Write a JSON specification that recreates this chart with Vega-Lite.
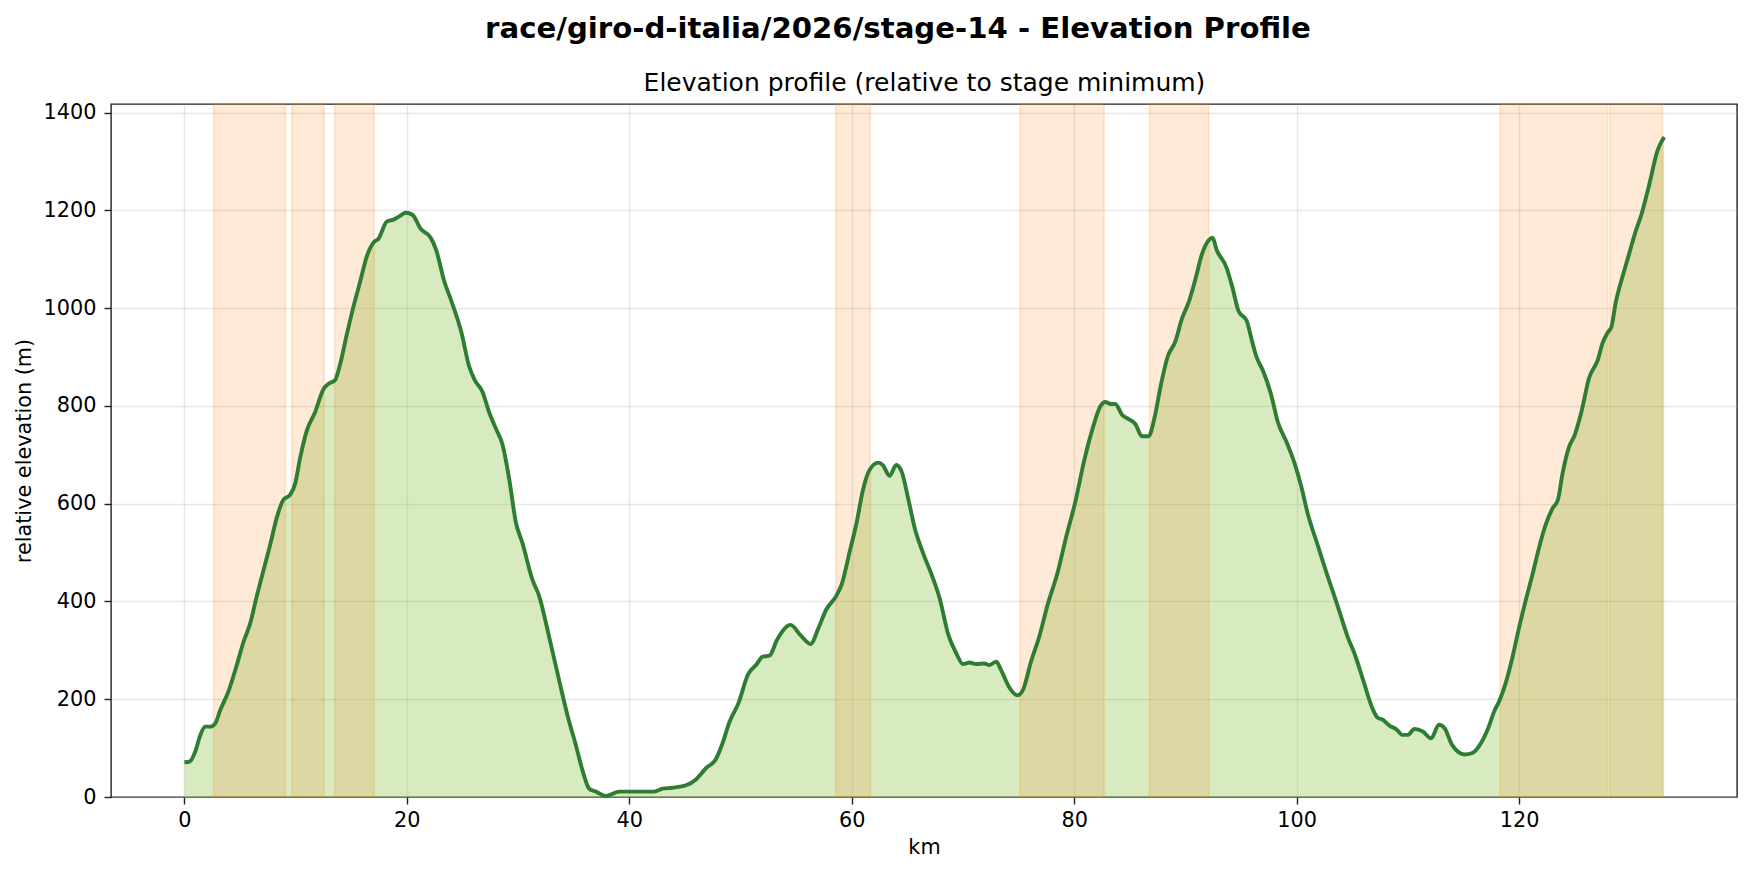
{
  "$schema": "https://vega.github.io/schema/vega-lite/v6.json",
  "width": 1626,
  "height": 693,
  "autosize": "none",
  "padding": {"left": 111, "top": 104, "right": 16, "bottom": 78},
  "background": "#ffffff",
  "title": {"text": "race/giro-d-italia/2026/stage-14 - Elevation Profile", "font": "DejaVu Sans", "fontSize": 29.2, "fontWeight": "bold", "color": "#000000", "anchor": "middle", "dx": -26, "offset": 26},
  "datasets": {
    "profile": [
      {"km":0,"elev":71},{"km":0.5,"elev":73},{"km":0.96,"elev":92},{"km":1.41,"elev":125},{"km":1.86,"elev":144},{"km":2.31,"elev":144},{"km":2.76,"elev":150},{"km":3.21,"elev":177},{"km":3.96,"elev":216},{"km":4.71,"elev":270},{"km":5.31,"elev":317},{"km":5.91,"elev":355},{"km":6.51,"elev":411},{"km":7.1,"elev":463},{"km":7.7,"elev":515},{"km":8.3,"elev":571},{"km":8.9,"elev":608},{"km":9.5,"elev":618},{"km":9.96,"elev":641},{"km":10.4,"elev":693},{"km":11.0,"elev":749},{"km":11.75,"elev":787},{"km":12.5,"elev":834},{"km":12.95,"elev":845},{"km":13.55,"elev":853},{"km":14.0,"elev":885},{"km":14.6,"elev":946},{"km":15.2,"elev":1003},{"km":15.8,"elev":1054},{"km":16.4,"elev":1106},{"km":17.0,"elev":1134},{"km":17.45,"elev":1142},{"km":18.2,"elev":1177},{"km":18.8,"elev":1181},{"km":19.4,"elev":1189},{"km":19.9,"elev":1195},{"km":20.5,"elev":1191},{"km":21.25,"elev":1162},{"km":22.15,"elev":1144},{"km":22.65,"elev":1118},{"km":23.35,"elev":1056},{"km":24.0,"elev":1015},{"km":24.9,"elev":951},{"km":25.6,"elev":881},{"km":26.1,"elev":853},{"km":26.8,"elev":829},{"km":27.4,"elev":787},{"km":28.0,"elev":754},{"km":28.6,"elev":721},{"km":29.2,"elev":651},{"km":29.8,"elev":562},{"km":30.4,"elev":519},{"km":31.3,"elev":444},{"km":31.9,"elev":411},{"km":32.8,"elev":327},{"km":33.7,"elev":238},{"km":34.5,"elev":162},{"km":35.2,"elev":106},{"km":35.8,"elev":54},{"km":36.4,"elev":17},{"km":37.0,"elev":11},{"km":37.9,"elev":2},{"km":39.1,"elev":11},{"km":40.3,"elev":11},{"km":42.25,"elev":11},{"km":43.0,"elev":17},{"km":43.9,"elev":19},{"km":45.1,"elev":24},{"km":46.0,"elev":36},{"km":46.9,"elev":59},{"km":47.8,"elev":78},{"km":48.4,"elev":111},{"km":49.0,"elev":153},{"km":49.8,"elev":191},{"km":50.7,"elev":252},{"km":51.4,"elev":270},{"km":52.0,"elev":287},{"km":52.6,"elev":289},{"km":53.3,"elev":322},{"km":54.5,"elev":352},{"km":55.4,"elev":331},{"km":56.3,"elev":313},{"km":57.0,"elev":345},{"km":57.7,"elev":383},{"km":58.6,"elev":411},{"km":59.1,"elev":435},{"km":59.85,"elev":505},{"km":60.45,"elev":562},{"km":61.0,"elev":627},{"km":61.6,"elev":669},{"km":62.4,"elev":684},{"km":62.8,"elev":679},{"km":63.4,"elev":657},{"km":64.0,"elev":679},{"km":64.5,"elev":665},{"km":65.1,"elev":608},{"km":65.7,"elev":547},{"km":66.4,"elev":500},{"km":67.2,"elev":454},{"km":67.9,"elev":407},{"km":68.7,"elev":331},{"km":69.4,"elev":294},{"km":70.0,"elev":272},{"km":70.6,"elev":275},{"km":71.2,"elev":272},{"km":71.9,"elev":273},{"km":72.4,"elev":270},{"km":73.0,"elev":277},{"km":73.4,"elev":261},{"km":74.2,"elev":223},{"km":74.9,"elev":208},{"km":75.4,"elev":219},{"km":76.1,"elev":275},{"km":76.9,"elev":331},{"km":77.6,"elev":392},{"km":78.5,"elev":458},{"km":79.25,"elev":529},{"km":80.15,"elev":608},{"km":80.9,"elev":688},{"km":81.6,"elev":749},{"km":82.4,"elev":801},{"km":82.8,"elev":808},{"km":83.3,"elev":804},{"km":83.7,"elev":804},{"km":84.3,"elev":782},{"km":84.9,"elev":773},{"km":85.5,"elev":763},{"km":86.1,"elev":738},{"km":86.7,"elev":738},{"km":87.2,"elev":773},{"km":87.8,"elev":843},{"km":88.4,"elev":900},{"km":89.1,"elev":932},{"km":89.7,"elev":979},{"km":90.3,"elev":1012},{"km":90.9,"elev":1059},{"km":91.5,"elev":1111},{"km":92.1,"elev":1139},{"km":92.45,"elev":1144},{"km":92.8,"elev":1120},{"km":93.7,"elev":1083},{"km":94.2,"elev":1045},{"km":94.8,"elev":993},{"km":95.5,"elev":975},{"km":96.0,"elev":932},{"km":96.4,"elev":900},{"km":97.0,"elev":871},{"km":97.7,"elev":824},{"km":98.3,"elev":768},{"km":99.1,"elev":726},{"km":99.8,"elev":684},{"km":100.4,"elev":637},{"km":101.0,"elev":580},{"km":101.9,"elev":515},{"km":102.7,"elev":458},{"km":103.4,"elev":411},{"km":104.0,"elev":369},{"km":104.6,"elev":327},{"km":105.2,"elev":294},{"km":106.0,"elev":238},{"km":106.9,"elev":177},{"km":107.3,"elev":162},{"km":107.75,"elev":158},{"km":108.35,"elev":146},{"km":108.95,"elev":139},{"km":109.55,"elev":127},{"km":110.0,"elev":127},{"km":110.6,"elev":139},{"km":111.35,"elev":134},{"km":112.1,"elev":120},{"km":112.8,"elev":148},{"km":113.3,"elev":141},{"km":114.0,"elev":106},{"km":115.1,"elev":87},{"km":115.8,"elev":90},{"km":116.6,"elev":111},{"km":117.2,"elev":139},{"km":117.8,"elev":177},{"km":118.2,"elev":195},{"km":118.8,"elev":233},{"km":119.4,"elev":285},{"km":120.0,"elev":346},{"km":120.6,"elev":402},{"km":121.2,"elev":454},{"km":121.8,"elev":510},{"km":122.4,"elev":557},{"km":123.0,"elev":590},{"km":123.5,"elev":608},{"km":123.9,"elev":660},{"km":124.5,"elev":716},{"km":125.0,"elev":740},{"km":125.6,"elev":787},{"km":126.3,"elev":857},{"km":127.1,"elev":895},{"km":127.5,"elev":928},{"km":128.0,"elev":951},{"km":128.3,"elev":961},{"km":128.7,"elev":1012},{"km":129.3,"elev":1064},{"km":129.9,"elev":1111},{"km":130.5,"elev":1158},{"km":131.0,"elev":1191},{"km":131.7,"elev":1252},{"km":132.45,"elev":1322},{"km":133.05,"elev":1350}
    ],
    "climbs": [
      {"start":2.64,"end":9.06},{"start":9.66,"end":12.56},{"start":13.52,"end":17.06},{"start":58.57,"end":61.67},{"start":75.13,"end":82.69},{"start":86.78,"end":92.1},{"start":118.3,"end":127.97},{"start":128.18,"end":132.9}
    ]
  },
  "resolve": {"axis": {"x": "independent"}},
  "layer": [
    {
      "data": {"name": "profile"},
      "mark": {"type": "area", "interpolate": "monotone", "color": "#8bc34a", "fillOpacity": 0.35},
      "encoding": {
        "x": {"field": "km", "type": "quantitative", "scale": {"domain": [-6.6, 139.6], "nice": false, "zero": false},
              "axis": {"orient": "bottom", "values": [0,20,40,60,80,100,120], "title": "km", "titlePadding": 8, "labelPadding": 6}},
        "y": {"field": "elev", "type": "quantitative", "scale": {"domain": [0, 1417.5], "nice": false},
              "axis": {"values": [0,200,400,600,800,1000,1200,1400], "format": "d", "title": "relative elevation (m)", "titlePadding": 9, "labelPadding": 8}}
      }
    },
    {
      "data": {"name": "climbs"},
      "mark": {"type": "rect", "fill": "#ff7f0e", "fillOpacity": 0.16, "stroke": "#ff7f0e", "strokeOpacity": 0.17, "strokeWidth": 1.8},
      "encoding": {
        "x": {"field": "start", "type": "quantitative", "axis": null},
        "x2": {"field": "end"}
      }
    },
    {
      "data": {"name": "profile"},
      "mark": {"type": "line", "interpolate": "monotone", "color": "#2e7d32", "strokeWidth": 3.9},
      "encoding": {
        "x": {"field": "km", "type": "quantitative",
              "axis": {"orient": "top", "title": "Elevation profile (relative to stage minimum)", "labels": false, "ticks": false, "domain": false, "grid": false, "titleFontSize": 25, "titlePadding": 9}},
        "y": {"field": "elev", "type": "quantitative"}
      }
    }
  ],
  "config": {
    "font": "DejaVu Sans",
    "view": {"stroke": "#222222", "strokeWidth": 1.4},
    "axis": {
      "labelFont": "DejaVu Sans", "labelFontSize": 20.8, "labelColor": "#000000",
      "tickColor": "#222222", "tickSize": 7, "tickWidth": 1.4, "domain": false,
      "gridColor": "#b0b0b0", "gridOpacity": 0.3, "gridWidth": 1.4,
      "titleFont": "DejaVu Sans", "titleFontSize": 20.8, "titleFontWeight": "normal", "titleColor": "#000000"
    }
  }
}
